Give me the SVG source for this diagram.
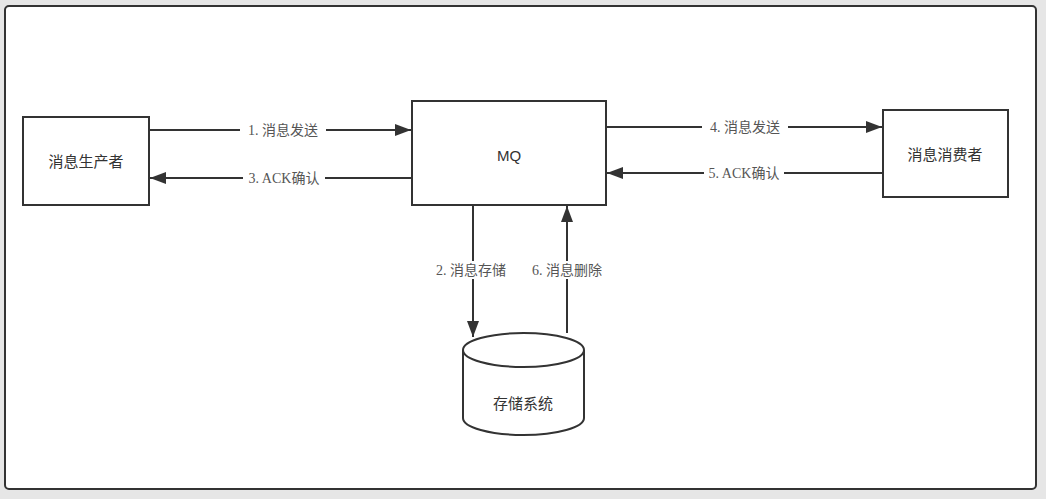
<svg xmlns="http://www.w3.org/2000/svg" width="1046" height="499" viewBox="0 0 1046 499">
<defs>
<marker id="ah" viewBox="0 0 16 12" refX="16" refY="6" markerWidth="16" markerHeight="12" markerUnits="userSpaceOnUse" orient="auto">
<path d="M0,0 L16,6 L0,12 Z" fill="#333"/>
</marker>
<style>
.box{fill:#fff;stroke:#333;stroke-width:2}
.t{font-family:"Liberation Sans","Noto Sans CJK SC",sans-serif;font-size:15px;fill:#333;text-anchor:middle;dominant-baseline:central}
.c{stroke:#333;stroke-width:2;fill:none;marker-end:url(#ah)}
.l{font-family:"Liberation Serif","Noto Sans CJK SC",serif;font-size:14px;fill:#555;text-anchor:middle;dominant-baseline:central}
.lb{fill:#fff}
</style>
</defs>
<rect width="1046" height="499" fill="#e6e6e6"/>
<rect x="5" y="6" width="1031" height="483" rx="4" fill="#fff" stroke="#333" stroke-width="2"/>
<g id="connectors">
<line class="c" x1="149" y1="130" x2="411" y2="130"/>
<line class="c" x1="412" y1="178" x2="150" y2="178"/>
<line class="c" x1="606" y1="127" x2="882" y2="127"/>
<line class="c" x1="883" y1="173" x2="607" y2="173"/>
<line class="c" x1="473" y1="205" x2="473" y2="337"/>
<line class="c" x1="567" y1="333" x2="567" y2="206"/>
<rect class="lb" x="240" y="121" width="86" height="18"/>
<text class="l" x="283" y="130">1. 消息发送</text>
<rect class="lb" x="243" y="169" width="82" height="18"/>
<text class="l" x="284" y="178">3. ACK确认</text>
<rect class="lb" x="702" y="118" width="86" height="18"/>
<text class="l" x="745" y="127">4. 消息发送</text>
<rect class="lb" x="704" y="164" width="80" height="18"/>
<text class="l" x="744" y="173">5. ACK确认</text>
<rect class="lb" x="428" y="261" width="88" height="18"/>
<text class="l" x="471" y="270">2. 消息存储</text>
<rect class="lb" x="522" y="261" width="90" height="18"/>
<text class="l" x="567" y="270">6. 消息删除</text>
</g>
<g id="producer">
<rect class="box" x="23" y="117" width="126" height="88"/>
<text class="t" x="86" y="161">消息生产者</text>
</g>
<g id="mq">
<rect class="box" x="412" y="101" width="194" height="104"/>
<text class="t" x="509" y="155">MQ</text>
</g>
<g id="consumer">
<rect class="box" x="883" y="110" width="125" height="87"/>
<text class="t" x="945" y="154">消息消费者</text>
</g>
<g id="storage">
<path class="box" d="M463,350 L463,418 A60.5,17 0 0 0 584,418 L584,350 A60.5,17 0 0 0 463,350 Z"/>
<path d="M463,350 A60.5,17 0 0 0 584,350" fill="none" stroke="#333" stroke-width="2"/>
<text class="t" x="523" y="403">存储系统</text>
</g>
</svg>
